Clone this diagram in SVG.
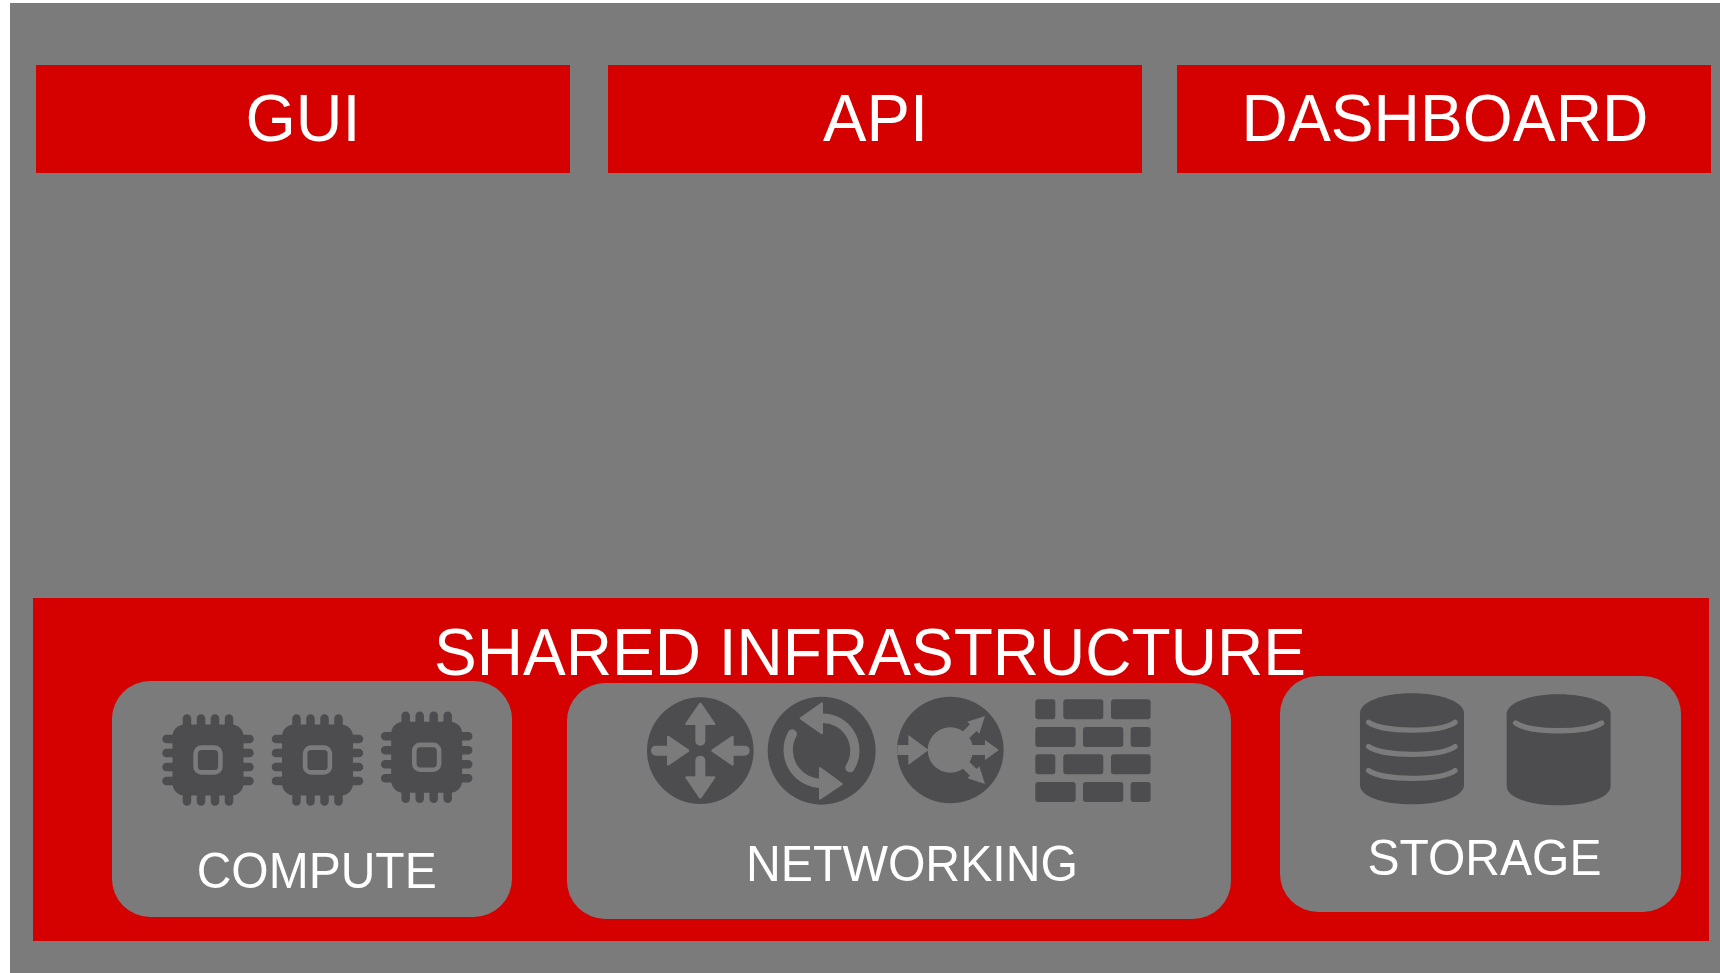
<svg xmlns="http://www.w3.org/2000/svg" xmlns:xlink="http://www.w3.org/1999/xlink" width="1720" height="973" viewBox="0 0 1720 973">
<style>
.bg{fill:#7b7b7b}
.red{fill:#d50000}
.dark{fill:#4d4d4f}
.lt{fill:#7b7b7b}
.pin{stroke:#4d4d4f;stroke-width:8.5;stroke-linecap:round;fill:none}
.ls{stroke:#7b7b7b;fill:none;stroke-linecap:round}
text{font-family:"Liberation Sans",Arial,sans-serif;fill:#fff;text-anchor:middle}
.t1{font-size:66.5px}
.t2{font-size:50px}
</style>
<defs>
<g id="chip">
<rect class="dark" x="-35.5" y="-35.5" width="71" height="71" rx="12"/>
<path class="pin" d="M-21,-41.5V-33M-7,-41.5V-33M7,-41.5V-33M21,-41.5V-33M-21,41.5V33M-7,41.5V33M7,41.5V33M21,41.5V33M-41.5,-21H-33M-41.5,-7H-33M-41.5,7H-33M-41.5,21H-33M41.5,-21H33M41.5,-7H33M41.5,7H33M41.5,21H33"/>
<rect x="-12.4" y="-12.4" width="24.8" height="24.8" rx="6" fill="none" stroke="#7b7b7b" stroke-width="4.6"/>
</g>
<path id="arr" class="lt" d="M0,-144Q3,-144 5,-140L44,-83Q47,-77 41,-77H15V-30A15,15 0 0 1 -15,-30V-77H-41Q-47,-77 -44,-83L-5,-140Q-3,-144 0,-144Z"/>
<path id="arr2" class="lt" d="M0,-144Q3,-144 5,-140L44,-83Q47,-77 41,-77H15V-44A15,15 0 0 1 -15,-44V-77H-41Q-47,-77 -44,-83L-5,-140Q-3,-144 0,-144Z"/>
<path id="cyl" class="dark" d="M60,100C60,65 130,40 216,40C300,40 372,65 372,100V315C372,350 300,373 216,373C130,373 60,350 60,315Z"/>
</defs>
<rect class="bg" x="10" y="3" width="1710" height="970"/>
<g id="gui"><rect class="red" x="36" y="65" width="534" height="108"/><text class="t1" x="303" y="141" textLength="115" lengthAdjust="spacingAndGlyphs">GUI</text></g>
<g id="api"><rect class="red" x="608" y="65" width="534" height="108"/><text class="t1" x="875.5" y="141" textLength="105" lengthAdjust="spacingAndGlyphs">API</text></g>
<g id="dashboard"><rect class="red" x="1177" y="65" width="534" height="108"/><text class="t1" x="1445" y="141" textLength="407" lengthAdjust="spacingAndGlyphs">DASHBOARD</text></g>
<g id="shared"><rect class="red" x="33" y="598" width="1676" height="343"/><text class="t1" x="870" y="675" textLength="872" lengthAdjust="spacingAndGlyphs">SHARED INFRASTRUCTURE</text></g>
<g id="compute">
<rect class="bg" x="112" y="681" width="400" height="236" rx="38"/>
<use xlink:href="#chip" href="#chip" x="208" y="760"/>
<use xlink:href="#chip" href="#chip" x="317.5" y="760"/>
<use xlink:href="#chip" href="#chip" x="426.7" y="757.3"/>
<text class="t2" x="316.7" y="888" textLength="240" lengthAdjust="spacingAndGlyphs">COMPUTE</text>
</g>
<g id="networking">
<rect class="bg" x="567" y="683" width="664" height="236" rx="38"/>
<g transform="translate(630,680) scale(.3333)">
<circle class="dark" cx="211" cy="212" r="160"/>
<use xlink:href="#arr" href="#arr" transform="translate(211,212)"/>
<use xlink:href="#arr" href="#arr" transform="translate(211,212) rotate(180)"/>
<use xlink:href="#arr2" href="#arr2" transform="translate(211,212) rotate(90) translate(0,-177) rotate(180)"/>
<use xlink:href="#arr2" href="#arr2" transform="translate(211,212) rotate(-90) translate(0,-177) rotate(180)"/>
<circle class="dark" cx="575" cy="212" r="162"/>
<path class="ls" stroke-width="28" d="M570,115A97,97 0 0 1 660,263M487,162A100,100 0 0 0 580,310"/>
<path class="lt" d="M512,115L576,70V160Z" stroke="#7b7b7b" stroke-width="6" stroke-linejoin="round"/>
<path class="lt" d="M636,312L570,264V356Z" stroke="#7b7b7b" stroke-width="6" stroke-linejoin="round"/>
</g>
<g transform="translate(880,680) scale(.3333)">
<circle class="dark" cx="211" cy="210" r="160"/>
<circle class="lt" cx="211" cy="210" r="68"/>
<path class="lt" d="M52,195H85V165L146,210L85,255V225H52Z"/>
<path class="lt" d="M265,195H315V180L357,210L315,240V225H265Z"/>
<path class="lt" d="M315,108L262,125L270,133L245,158L264,178L290,153L298,161Z"/>
<path class="lt" d="M315,312L262,295L270,287L245,262L264,242L290,267L298,259Z"/>
<g class="dark">
<rect x="466" y="58" width="60" height="60" rx="9"/><rect x="550" y="58" width="120" height="60" rx="9"/><rect x="693" y="58" width="119" height="60" rx="9"/>
<rect x="466" y="141" width="121" height="60" rx="9"/><rect x="609" y="141" width="121" height="60" rx="9"/><rect x="752" y="141" width="60" height="60" rx="9"/>
<rect x="466" y="223" width="60" height="60" rx="9"/><rect x="550" y="223" width="120" height="60" rx="9"/><rect x="693" y="223" width="119" height="60" rx="9"/>
<rect x="466" y="306" width="121" height="60" rx="9"/><rect x="609" y="306" width="121" height="60" rx="9"/><rect x="752" y="306" width="60" height="60" rx="9"/>
</g>
</g>
<text class="t2" x="912" y="881" textLength="332" lengthAdjust="spacingAndGlyphs">NETWORKING</text>
</g>
<g id="storage">
<rect class="bg" x="1280" y="676" width="401" height="236" rx="38"/>
<g transform="translate(1340,680) scale(.3333)">
<use xlink:href="#cyl" href="#cyl"/>
<use xlink:href="#cyl" href="#cyl" transform="translate(440,3)"/>
<path class="ls" stroke-width="16" d="M86,127C130,158 300,158 345,127M86,200C130,231 300,231 345,200M86,272C130,303 300,303 345,272M527,129C571,160 741,160 785,129"/>
</g>
<text class="t2" x="1484.5" y="875" textLength="234" lengthAdjust="spacingAndGlyphs">STORAGE</text>
</g>
</svg>
